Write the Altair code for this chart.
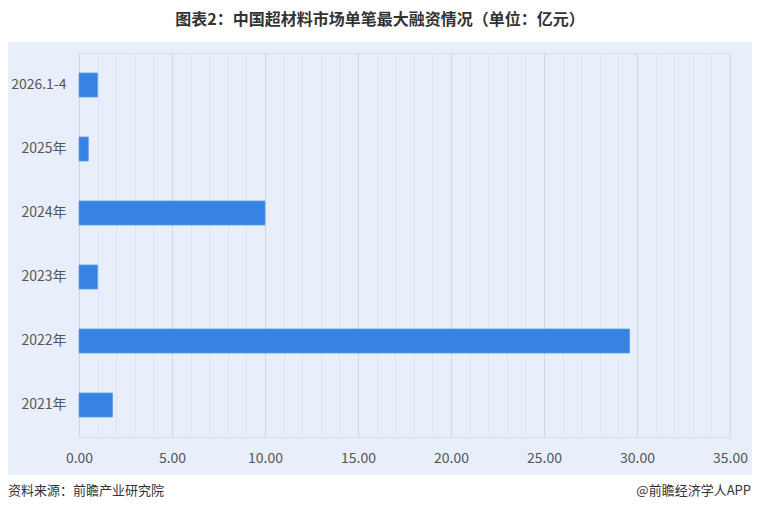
import altair as alt
import pandas as pd

categories = ["2026.1-4", "2025年", "2024年", "2023年", "2022年", "2021年"]
values = [1.0, 0.5, 10.0, 1.0, 29.6, 1.8]
x_ticks = list(range(0, 36))

title_text = "图表2：中国超材料市场单笔最大融资情况（单位：亿元）"
source_text = "资料来源：前瞻产业研究院"
brand_text = "@前瞻经济学人APP"

df = pd.DataFrame({"category": categories, "value": values})

FONT = "Noto Sans CJK SC"
W, H = 651, 384
one = pd.DataFrame({"a": [0]})

top_white = alt.Chart(one).mark_rect(color="white").encode(
    x=alt.value(-80), x2=alt.value(700), y=alt.value(-50), y2=alt.value(-11)
)
bottom_white = alt.Chart(one).mark_rect(color="white").encode(
    x=alt.value(-80), x2=alt.value(700), y=alt.value(422), y2=alt.value(460)
)

bars = alt.Chart(df).mark_bar(color="#3683E3", stroke="#5A9BEA", strokeWidth=0.8).encode(
    y=alt.Y("category:N", sort=categories, title=None,
            scale=alt.Scale(paddingInner=0.625, paddingOuter=0.3125),
            axis=alt.Axis(domain=False, ticks=False, labelFontSize=14, labelColor="#555555",
                          labelPadding=13, labelFont=FONT)),
    x=alt.X("value:Q", title=None,
            scale=alt.Scale(domain=[0, 35], nice=False),
            axis=alt.Axis(values=x_ticks, domain=False, ticks=False,
                          labelExpr="datum.value % 5 === 0 ? format(datum.value, '.2f') : ''",
                          labelFontSize=14, labelColor="#555555", labelPadding=14, labelFont=FONT,
                          labelFlush=False,
                          grid=True,
                          gridColor={"expr": "datum.value % 5 === 0 ? '#D2D7DE' : '#DFE7F3'"},
                          gridWidth=1)),
)

title_mark = alt.Chart(pd.DataFrame({"t": [title_text]})).mark_text(
    align="center", baseline="middle", fontSize=16, fontWeight="bold", color="#333333", font=FONT
).encode(text="t:N", x=alt.value(301), y=alt.value(-33))

footer_l = alt.Chart(pd.DataFrame({"t": [source_text]})).mark_text(
    align="left", baseline="middle", fontSize=13, color="#333333", font=FONT
).encode(text="t:N", x=alt.value(-71), y=alt.value(438))

footer_r = alt.Chart(pd.DataFrame({"t": [brand_text]})).mark_text(
    align="right", baseline="middle", fontSize=13, color="#333333", font=FONT
).encode(text="t:N", x=alt.value(672), y=alt.value(438))

chart = alt.layer(top_white, bottom_white, bars, title_mark, footer_l, footer_r).properties(
    width=W, height=H,
    autosize=alt.AutoSizeParams(type="none"),
    padding={"left": 71, "top": 45, "right": 22, "bottom": 66},
).configure_view(stroke=None).configure(background="#E9EFFA")

chart.save("out.html", embed_options={"renderer": "svg", "actions": False})
